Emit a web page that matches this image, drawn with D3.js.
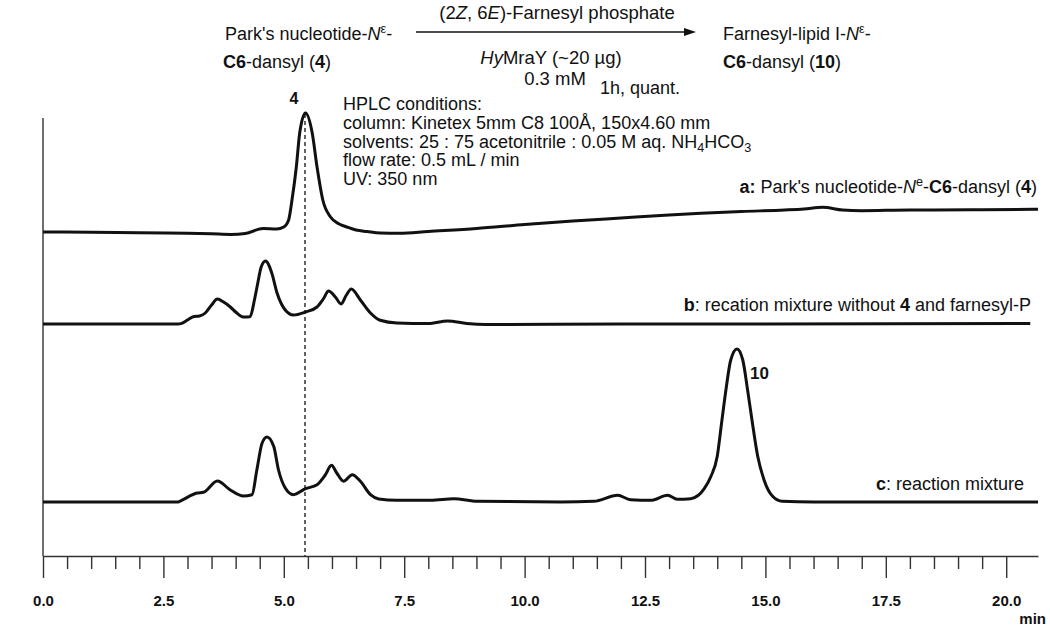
<!DOCTYPE html>
<html>
<head>
<meta charset="utf-8">
<title>HPLC traces</title>
<script src="https://cdnjs.cloudflare.com/ajax/libs/d3/7.8.5/d3.min.js"></script>
<style>
body { margin: 0; background: #fff; }
svg { font-family: Arial, "Liberation Sans", sans-serif; }
.axis path, .axis line { stroke: #333; stroke-width: 1.4; }
.axis text { font-size: 15px; font-weight: bold; fill: #111; }
.trace { fill: none; stroke: #111; stroke-width: 3; stroke-linejoin: round; }
</style>
</head>
<body>
<script>
// retention time (min), signal above baseline
var traceA = [[0,0],[1,-0.3],[2,-0.8],[3,-1.2],[3.5,-1.8],[3.9,-2.5],[4.2,-1.5],[4.57,3.5],[4.85,3],[5.0,5],
  [5.1,12],[5.17,32],[5.26,65],[5.33,99],[5.45,119],[5.59,99],[5.69,65],[5.81,32],[5.97,15],[6.15,8],[6.31,5],
  [6.5,2],[6.73,0.5],[7.0,-1],[7.4,-1.3],[8,0.5],[9,3.5],[10,7.5],[11,11],[12,14],[13,17],[13.66,18.7],
  [14.5,20.5],[15.4,22],[15.8,23],[16.19,24.7],[16.6,22],[17,21.3],[18,22],[18.5,22],[19.5,22.3],[20.66,22.7]];

var traceB = [[0,0],[2.8,0],[2.88,0.7],[3.0,4],[3.12,7.3],[3.25,8],[3.37,11],[3.5,19],[3.62,25],[3.75,22],
  [3.89,17],[4.0,12],[4.16,7],[4.3,7.3],[4.39,24],[4.46,41],[4.53,57],[4.62,63],[4.75,51],[4.86,31],[5.03,14],
  [5.2,9],[5.45,12],[5.69,17],[5.82,25],[5.93,33],[6.07,27],[6.19,20],[6.3,29],[6.4,35],[6.59,24],[6.8,11],
  [7.0,3.7],[7.35,1],[8.0,0.5],[8.4,3],[8.8,0.5],[9.2,-0.5],[12,0],[15,0],[20.5,0.5]];

var traceC = [[0,0],[2.8,0],[2.88,1.7],[3.2,9],[3.33,9.7],[3.62,21],[3.89,12],[4.16,6],[4.34,7.3],[4.44,32],
  [4.55,59],[4.65,65],[4.79,55.7],[4.89,32],[5.03,14],[5.2,7.3],[5.45,13.3],[5.69,17.3],[5.86,27],[5.99,36.7],
  [6.1,29],[6.24,20.7],[6.42,27.3],[6.59,20.7],[6.8,7.3],[6.97,3],[7.35,1.7],[8.05,1.7],[8.53,3.3],[9.02,0.7],
  [10.75,0],[11.44,0.7],[11.93,6.7],[12.2,2.3],[12.62,1.7],[12.97,6.7],[13.17,2.7],[13.45,3.3],[13.73,13.3],
  [13.87,25.7],[14.0,45.7],[14.09,79],[14.18,112],[14.28,142],[14.41,153],[14.53,142],[14.63,112],[14.73,79],
  [14.84,45.7],[14.97,22.3],[15.15,5.7],[15.35,0.7],[16,0],[20.66,0]];

var majorTicks = [0, 2.5, 5, 7.5, 10, 12.5, 15, 17.5, 20];
var minorTicks = d3.range(0.5, 20, 0.5).filter(function(t) { return t % 2.5 !== 0; });
var markerTime = 5.44;

var W = 1050, H = 628;
var svg = d3.select("body").append("svg").attr("width", W).attr("height", H);

var x = d3.scaleLinear().domain([0, 20.66]).range([43, 1038]);
var y = d3.scaleLinear().domain([0, 440]).range([556, 116]);

// vertical line on the left
svg.append("line").attr("x1", 43).attr("x2", 43).attr("y1", 118).attr("y2", 556)
  .attr("stroke", "#333").attr("stroke-width", 1.4);

svg.append("g").attr("class", "axis").attr("transform", "translate(0,556)")
  .call(d3.axisBottom(x).tickValues(minorTicks).tickSize(13).tickFormat(""))
  .call(function(g) { g.select(".domain").remove(); });

svg.append("g").attr("class", "axis").attr("transform", "translate(0,556)")
  .call(d3.axisBottom(x).tickValues(majorTicks).tickSize(22).tickSizeOuter(0).tickPadding(17).tickFormat(d3.format(".1f")));

svg.append("text").attr("x", 1046).attr("y", 624).attr("text-anchor", "end")
  .attr("font-size", 15).attr("font-weight", "bold").attr("fill", "#111").text("min");

// dashed marker through peak of 4
svg.append("line").attr("x1", x(markerTime)).attr("x2", x(markerTime)).attr("y1", 114).attr("y2", 556)
  .attr("stroke", "#111").attr("stroke-width", 1.3).attr("stroke-dasharray", "4,3");

var line = d3.line().curve(d3.curveMonotoneX);
function drawTrace(data, offset) {
  svg.append("path").attr("class", "trace")
    .attr("d", line(data.map(function(d) { return [x(d[0]), y(offset + d[1])]; })));
}
drawTrace(traceA, 324);
drawTrace(traceB, 232);
drawTrace(traceC, 54);

function rich(x0, y0, segs, opts) {
  opts = opts || {};
  var t = svg.append("text").attr("x", x0).attr("y", y0)
    .attr("font-size", opts.size || 18).attr("fill", "#111")
    .attr("text-anchor", opts.anchor || "start");
  var shift = 0;
  segs.forEach(function(s) {
    if (typeof s === "string") s = { t: s };
    var target = s.sup ? -7 : (s.sub ? 4 : 0);
    var ts = t.append("tspan").attr("dy", target - shift).text(s.t);
    shift = target;
    if (s.b) ts.attr("font-weight", "bold");
    if (s.i) ts.attr("font-style", "italic");
    if (s.sup || s.sub) ts.attr("font-size", "0.7em");
  });
  return t;
}

// reaction scheme
var top = { size: 18.5 };
rich(225, 40, ["Park's nucleotide-", { t: "N", i: 1 }, { t: "\u03b5", sup: 1 }, "-"], top);
rich(223, 68, [{ t: "C6", b: 1 }, "-dansyl (", { t: "4", b: 1 }, ")"], top);
rich(557, 19, ["(2", { t: "Z", i: 1 }, ", 6", { t: "E", i: 1 }, ")-Farnesyl phosphate"], { anchor: "middle", size: 18.5 });
rich(551, 64, [{ t: "Hy", i: 1 }, "MraY (~20 \u00b5g)"], { anchor: "middle", size: 18.5 });
rich(555, 85, ["0.3 mM"], { anchor: "middle", size: 18.5 });
rich(600, 94, ["1h, quant."], top);
rich(723, 40, ["Farnesyl-lipid I-", { t: "N", i: 1 }, { t: "\u03b5", sup: 1 }, "-"], top);
rich(723, 68, [{ t: "C6", b: 1 }, "-dansyl (", { t: "10", b: 1 }, ")"], top);

svg.append("line").attr("x1", 416).attr("x2", 688).attr("y1", 32).attr("y2", 32)
  .attr("stroke", "#111").attr("stroke-width", 1.3);
svg.append("path").attr("d", "M696,32 L684,28 L684,36 Z").attr("fill", "#111");

// HPLC conditions
rich(343, 110, ["HPLC conditions:"]);
rich(343, 128.5, ["column: Kinetex 5mm C8 100\u00c5, 150x4.60 mm"]);
rich(343, 147.5, ["solvents: 25 : 75 acetonitrile : 0.05 M aq. NH", { t: "4", sub: 1 }, "HCO", { t: "3", sub: 1 }]);
rich(343, 166, ["flow rate: 0.5 mL / min"]);
rich(343, 185, ["UV: 350 nm"]);

// peak labels
rich(294, 104, [{ t: "4", b: 1 }], { anchor: "middle", size: 16 });
rich(750, 379, [{ t: "10", b: 1 }], { size: 17 });

// trace labels
rich(1037, 193, [{ t: "a:", b: 1 }, " Park's nucleotide-", { t: "N", i: 1 }, { t: "e", sup: 1 }, "-", { t: "C6", b: 1 }, "-dansyl (", { t: "4", b: 1 }, ")"], { anchor: "end" });
rich(1031, 311, [{ t: "b", b: 1 }, ": recation mixture without ", { t: "4", b: 1 }, " and farnesyl-P"], { anchor: "end" });
rich(1024, 490, [{ t: "c", b: 1 }, ": reaction mixture"], { anchor: "end" });
</script>
</body>
</html>
